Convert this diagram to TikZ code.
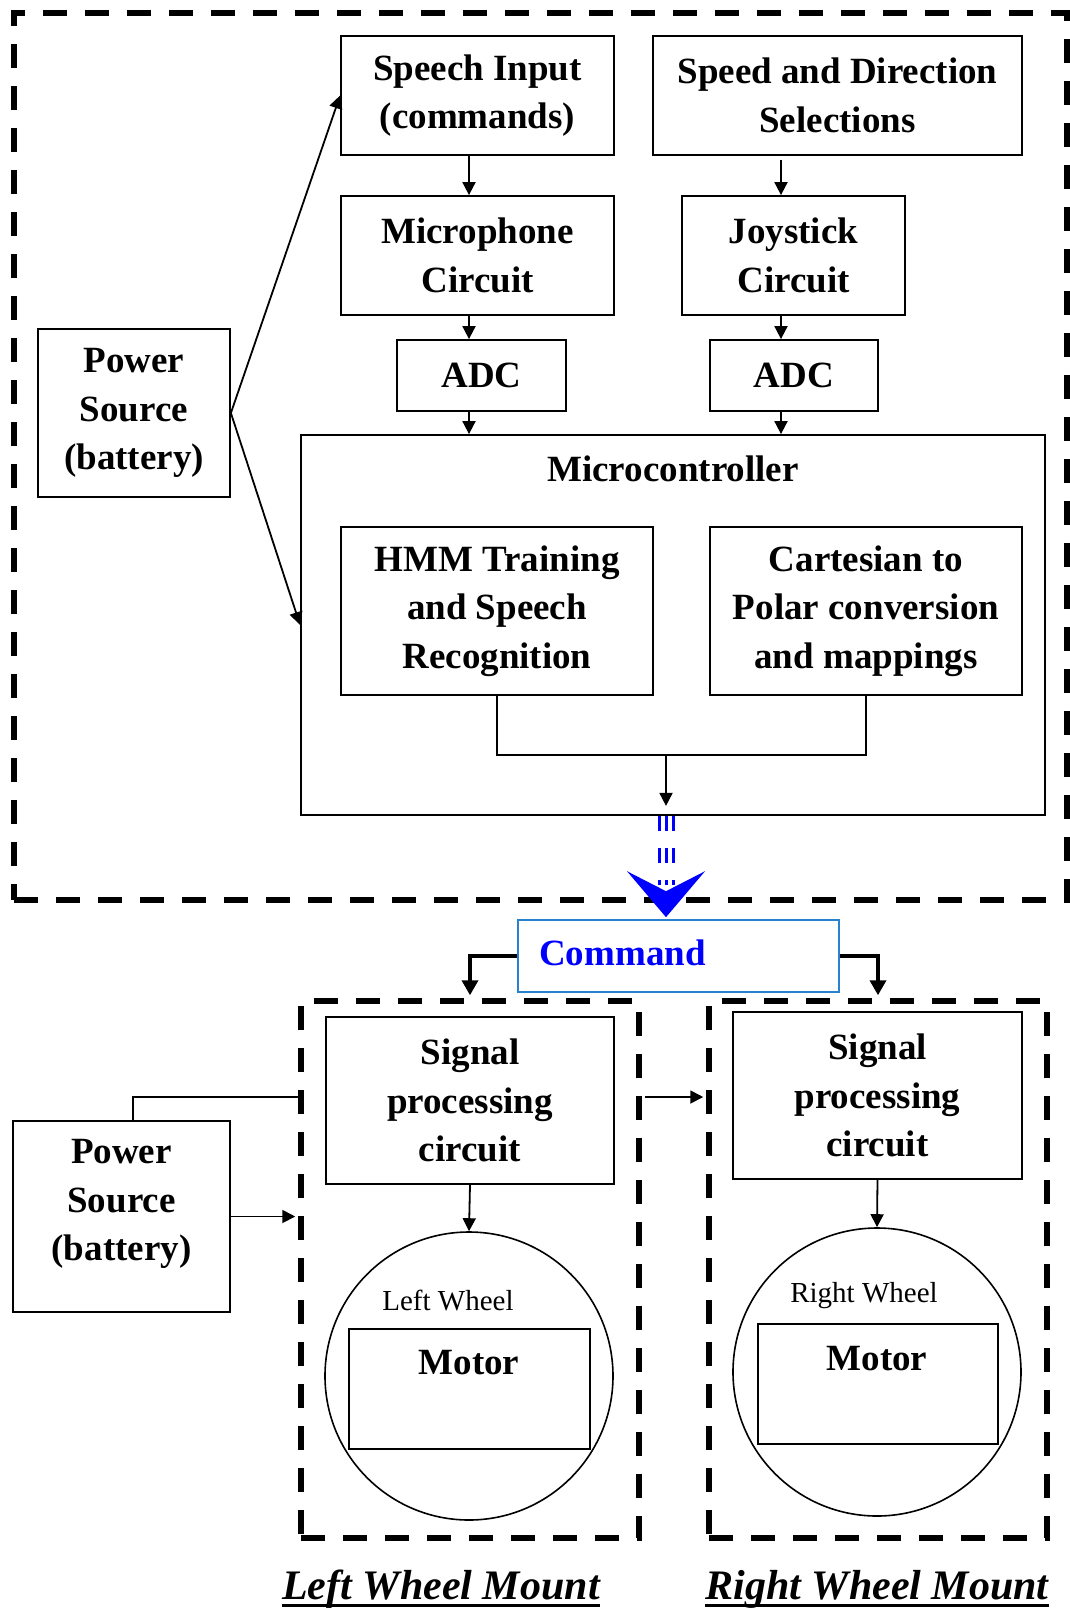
\documentclass[tikz,border=0pt]{standalone}
\usepackage{fontspec}
\setmainfont{Liberation Serif}
\usetikzlibrary{arrows.meta,calc}
\definecolor{cmdblue}{RGB}{40,130,205}
\begin{document}
\begin{tikzpicture}[x=1pt,y=-1pt,
  box/.style={draw, line width=1.8pt, inner sep=0pt, align=center, font=\bfseries\fontsize{37}{48.5}\selectfont},
  txt/.style={inner sep=0pt, align=center, font=\bfseries\fontsize{37}{48.5}\selectfont},
  small/.style={inner sep=0pt, font=\fontsize{29}{34}\selectfont},
  grp/.style={draw, line width=5.5pt, dash pattern=on 24pt off 18pt, inner sep=0pt},
  ln/.style={line width=1.8pt},
  arr/.style={line width=1.8pt, -{Triangle[length=13pt,width=13pt]}},
  thickarr/.style={line width=3.5pt, -{Triangle[length=15pt,width=16pt]}},
  bluedash/.style={blue, line width=3pt, dash pattern=on 15pt off 17pt},
  mount/.style={inner sep=0pt, anchor=base, font=\bfseries\itshape\fontsize{42}{50}\selectfont}
]
\useasboundingbox (0,0) rectangle (1069,1610);

% outer group
\node[grp, minimum width=1053pt, minimum height=887pt] (sys) at (540.5,456.5) {};

% top boxes
\node[box, minimum width=273pt, minimum height=119pt] (spin) at (477.5,95.5) {Speech Input\\(commands)};
\node[box, minimum width=369pt, minimum height=119pt] (speed) at (837.5,95.5) {Speed and Direction\\Selections};
\node[box, minimum width=273pt, minimum height=119pt] (mic) at (477.5,255.5) {Microphone\\Circuit};
\node[box, minimum width=223pt, minimum height=119pt] (joy) at (793.5,255.5) {Joystick\\Circuit};
\node[box, minimum width=169pt, minimum height=71pt] (adcl) at (481.5,375.5) {ADC};
\node[box, minimum width=168pt, minimum height=71pt] (adcr) at (794,375.5) {ADC};
\node[box, minimum width=744pt, minimum height=380pt] (mc) at (673,625) {};
\node[txt] (mclab) at (673,469) {Microcontroller};
\node[box, minimum width=312pt, minimum height=168pt] (hmm) at (497,611) {HMM Training\\and Speech\\Recognition};
\node[box, minimum width=312pt, minimum height=168pt] (cart) at (866,611) {Cartesian to\\Polar conversion\\and mappings};
\node[box, minimum width=192pt, minimum height=168pt] (pw1) at (134,413) {Power\\Source\\(battery)};

% command
\node[draw=cmdblue, line width=1.6pt, minimum width=321pt, minimum height=72pt, inner sep=0pt] (cmd) at (678.5,956) {};
\node[txt, text=blue, anchor=west] (cmdtxt) at (539,953) {Command};

% mounts
\node[grp, minimum width=338pt, minimum height=537pt] (lwm) at (470,1269.5) {};
\node[grp, minimum width=338pt, minimum height=537pt] (rwm) at (878,1269.5) {};
\node[box, minimum width=288pt, minimum height=167pt] (spl) at (470,1100.5) {Signal\\processing\\circuit};
\node[box, minimum width=289pt, minimum height=167pt] (spr) at (877.5,1095.5) {Signal\\processing\\circuit};
\node[draw, circle, line width=1.6pt, minimum size=288pt, inner sep=0pt] (lc) at (469,1376) {};
\node[draw, circle, line width=1.6pt, minimum size=288pt, inner sep=0pt] (rc) at (877,1372) {};
\node[draw, line width=1.6pt, minimum width=241pt, minimum height=120pt, inner sep=0pt] (ml) at (469.5,1389) {};
\node[draw, line width=1.6pt, minimum width=240pt, minimum height=120pt, inner sep=0pt] (mr) at (878,1384) {};
\node[small] (lwt) at (448,1300) {Left Wheel};
\node[small] (rwt) at (864,1296) {Right Wheel};
\node[txt] (mlt) at (469,1363) {Motor};
\node[txt] (mrt) at (877,1359) {Motor};
\node[box, minimum width=217pt, minimum height=191pt] (pw2) at (121.5,1216.5) {};
\node[txt] (pw2t) at (121.5,1204) {Power\\Source\\(battery)};

% mount labels
\node[mount] (lwl) at (441,1599) {Left Wheel Mount};
\node[mount] (rwl) at (877,1599) {Right Wheel Mount};
\draw[line width=3pt] ($(lwl.base west)+(0,6)$) -- ($(lwl.base east)+(0,6)$);
\draw[line width=3pt] ($(rwl.base west)+(0,6)$) -- ($(rwl.base east)+(0,6)$);

% columns
\coordinate (cl) at (469,0);
\coordinate (cr) at (781,0);
\coordinate (cc) at (666,0);
\coordinate (ym) at (0,755);
\coordinate (ya) at (0,1097);

% top connectors
\draw[arr] (spin.south -| cl) -- (mic.north -| cl);
\draw[arr] (mic.south -| cl) -- (adcl.north -| cl);
\draw[arr] (adcl.south -| cl) -- (mc.north -| cl);
\draw[arr] ($(speed.south -| cr)+(0,4)$) -- (joy.north -| cr);
\draw[arr] (joy.south -| cr) -- (adcr.north -| cr);
\draw[arr] (adcr.south -| cr) -- (mc.north -| cr);
\draw[arr] (pw1.east) -- (spin.west);
\draw[arr] (pw1.east) -- (mc.west);
\draw[ln] (hmm.south) |- (cart.south |- ym) -- (cart.south);
\draw[arr] (ym -| cc) -- ($(mc.south -| cc)+(0,-10)$);

% blue command arrow
\coordinate (bt) at (mc.south -| cc);
\coordinate (bb) at (cmd.north -| cc);
\foreach \dx in {-7,0,7}
  \draw[bluedash] ($(bt)+(\dx,0)$) -- ($(bb)+(\dx,-34)$);
\fill[blue] ($(bb)+(0,-2)$) -- ++(-39,-46) -- ++(39,20) -- ++(39,-20) -- cycle;

% command to mounts
\draw[thickarr] (cmd.west) -| ($(lwm.north)+(0,-3)$);
\draw[thickarr] (cmd.east) -| ($(rwm.north)+(0,-3)$);

% bottom connectors
\draw[ln] ($(pw2.north)+(11.5,0)$) |- (lwm.west |- ya);
\draw[arr] (pw2.east) -- ($(pw2.east -| lwm.west)+(-3,0)$);
\draw[arr] ($(lwm.east |- ya)+(3,0)$) -- ($(rwm.west |- ya)+(-3,0)$);
\draw[arr] (spl.south) -- (lc.north);
\draw[arr] (spr.south) -- (rc.north);
\end{tikzpicture}
\end{document}
